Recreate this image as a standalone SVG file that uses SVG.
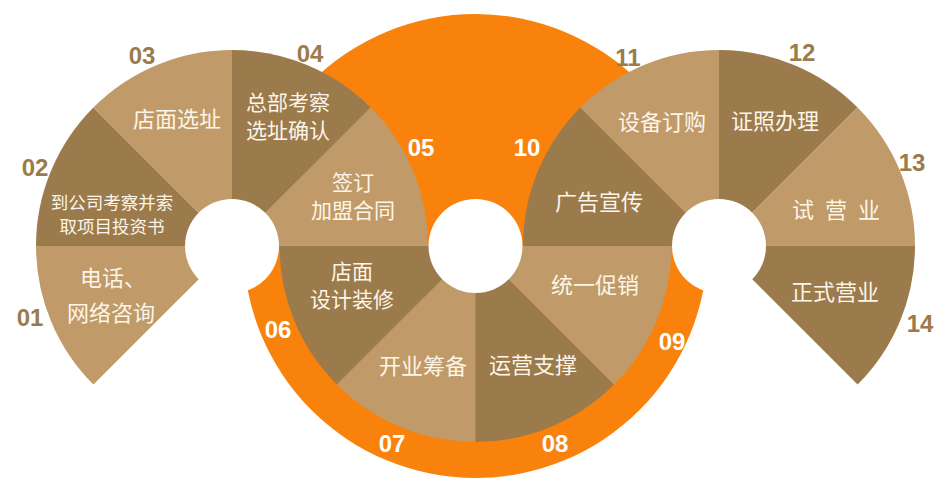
<svg xmlns="http://www.w3.org/2000/svg" width="948" height="495" viewBox="0 0 948 495">
<style>
.d{fill:#9b7b4c}
.l{fill:#c09b69}
.hole{fill:#ffffff}
.t{font-family:"Noto Sans CJK SC","Noto Sans",sans-serif;font-size:22px;fill:#fdf5e8;text-anchor:middle}
.m{font-size:21px}
.s{font-size:17.5px}
.n{font-family:"Liberation Sans",Arial,sans-serif;font-weight:bold;font-size:24px;text-anchor:middle}
.nb{fill:#9b7b4c}
.nw{fill:#ffffff}
</style>
<rect width="948" height="495" fill="#ffffff"/>
<g id="orange-ring">
<circle cx="475.5" cy="246" r="232" fill="#f8820c"/>
</g>
<g id="connectors"></g>
<g id="node-01"><path class="l" d="M232,246 L93.41,384.59 A196,196 0 0 1 36,246 Z"/><text class="t" x="113" y="286">电话、</text><text class="t" x="111" y="321">网络咨询</text><text class="n nb" x="30" y="325.5">01</text></g>
<g id="node-02"><path class="d" d="M232,246 L36,246 A196,196 0 0 1 93.41,107.41 Z"/><text class="t s" x="112" y="209">到公司考察并索</text><text class="t s" x="112" y="233">取项目投资书</text><text class="n nb" x="35" y="175.5">02</text></g>
<g id="node-03"><path class="l" d="M232,246 L93.41,107.41 A196,196 0 0 1 232,50 Z"/><text class="t" x="177" y="127">店面选址</text><text class="n nb" x="142" y="63.5">03</text></g>
<g id="node-04"><path class="d" d="M232,246 L232,50 A196,196 0 0 1 370.59,107.41 Z"/><text class="t m" x="288" y="110">总部考察</text><text class="t m" x="288" y="138">选址确认</text><text class="n nb" x="310" y="61.5">04</text></g>
<g id="node-05"><path class="l" d="M232,246 L370.59,107.41 A196,196 0 0 1 428,246 Z"/><text class="t m" x="353" y="190">签订</text><text class="t m" x="353" y="218">加盟合同</text><text class="n nw" x="421" y="155.5">05</text></g>
<g id="node-06"><path class="d" d="M475.5,246 L336.91,384.59 A196,196 0 0 1 279.5,246 Z"/><text class="t m" x="352" y="279">店面</text><text class="t m" x="352" y="307">设计装修</text><text class="n nw" x="278" y="337.5">06</text></g>
<g id="node-07"><path class="l" d="M475.5,246 L475.5,442 A196,196 0 0 1 336.91,384.59 Z"/><text class="t" x="423" y="374">开业筹备</text><text class="n nw" x="392" y="451.5">07</text></g>
<g id="node-08"><path class="d" d="M475.5,246 L614.09,384.59 A196,196 0 0 1 475.5,442 Z"/><text class="t" x="533" y="373">运营支撑</text><text class="n nw" x="555" y="451.5">08</text></g>
<g id="node-09"><path class="l" d="M475.5,246 L671.5,246 A196,196 0 0 1 614.09,384.59 Z"/><text class="t" x="595" y="293">统一促销</text><text class="n nw" x="672" y="349.5">09</text></g>
<g id="node-10"><path class="d" d="M719,246 L523,246 A196,196 0 0 1 580.41,107.41 Z"/><text class="t" x="599" y="210">广告宣传</text><text class="n nw" x="527" y="155.5">10</text></g>
<g id="node-11"><path class="l" d="M719,246 L580.41,107.41 A196,196 0 0 1 719,50 Z"/><text class="t" x="662" y="130">设备订购</text><text class="n nb" x="628" y="65.5">11</text></g>
<g id="node-12"><path class="d" d="M719,246 L719,50 A196,196 0 0 1 857.59,107.41 Z"/><text class="t" x="775" y="129">证照办理</text><text class="n nb" x="802" y="60.5">12</text></g>
<g id="node-13"><path class="l" d="M719,246 L857.59,107.41 A196,196 0 0 1 915,246 Z"/><text class="t" x="836" y="218" word-spacing="6">试 营 业</text><text class="n nb" x="912" y="170.5">13</text></g>
<g id="node-14"><path class="d" d="M719,246 L915,246 A196,196 0 0 1 857.59,384.59 Z"/><text class="t" x="835" y="300">正式营业</text><text class="n nb" x="920" y="332">14</text></g>
<g id="holes">
<circle class="hole" cx="232" cy="246" r="47"/>
<circle class="hole" cx="475.5" cy="246" r="47"/>
<circle class="hole" cx="719" cy="246" r="47"/>
</g>
</svg>
